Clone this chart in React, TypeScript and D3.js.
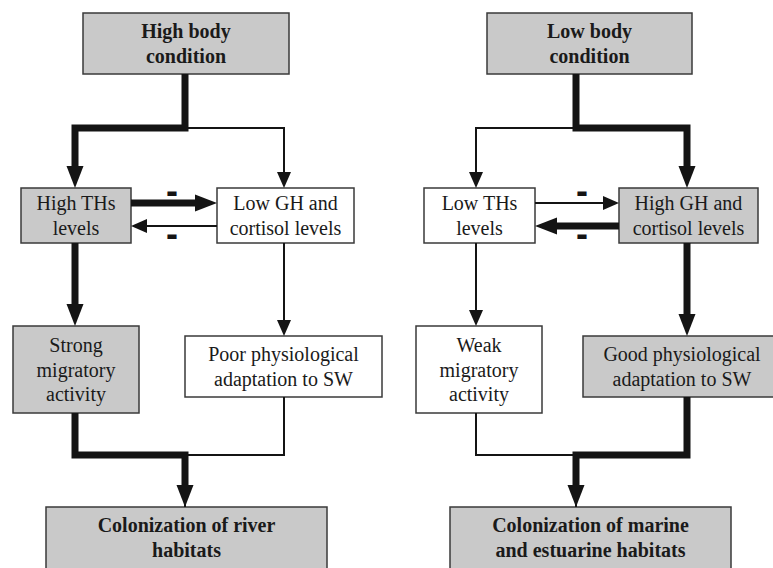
import React from "react";
import * as d3 from "d3";

// two panels: which branch is the "strong" (thick) one
const topLabels = [["High body", "condition"], ["Low body", "condition"]];
const thLabels = [["High THs", "levels"], ["Low THs", "levels"]];
const ghLabels = [["Low GH and", "cortisol levels"], ["High GH and", "cortisol levels"]];
const migLabels = [["Strong", "migratory", "activity"], ["Weak", "migratory", "activity"]];
const adaptLabels = [["Poor physiological", "adaptation to SW"], ["Good physiological", "adaptation to SW"]];
const outcomeLabels = [["Colonization of river", "habitats"], ["Colonization of marine", "and estuarine habitats"]];
const strongSide = ["th", "gh"];
const minusSign = "-";

// layout (pixel boxes per panel)
const layout = [
  {
    top: [83, 13, 289, 74], th: [21, 188, 131, 243], gh: [217, 188, 354, 243],
    mig: [13, 326, 139, 413], adapt: [185, 336, 382, 397], out: [46, 507, 327, 580],
    cx: 185, thx: 75, ghx: 284, split: 128, join: 455, minusX: 172, adaptCx: 283.5,
  },
  {
    top: [487, 13, 692, 74], th: [424, 188, 535, 243], gh: [619, 188, 758, 243],
    mig: [416, 326, 542, 413], adapt: [583, 336, 790, 397], out: [450, 507, 731, 580],
    cx: 576, thx: 476, ghx: 687, split: 128, join: 455, minusX: 582, adaptCx: 682,
  },
];

const GRAY = "#c9c9c9";
const INK = "#141414";
const THICK = 7;
const THIN = 2;
const FS = 20;
const LH = 24.5;
const SERIF = "Liberation Serif, serif";

type Pt = [number, number];
const line = d3.line<Pt>();

function Box({ r, lines, fill, bold, cx }: { r: number[]; lines: string[]; fill: string; bold?: boolean; cx?: number }) {
  const [x0, y0, x1, y1] = r;
  const mx = cx ?? (x0 + x1) / 2;
  const my = (Math.min(y1, 568) + y0) / 2;
  const n = lines.length;
  return (
    <g>
      <rect x={x0} y={y0} width={x1 - x0} height={y1 - y0} fill={fill} stroke="#3a3a3a" strokeWidth={1.5} />
      {lines.map((t, i) => (
        <text key={i} x={mx} y={my + (i - (n - 1) / 2) * LH + 7} textAnchor="middle"
          fontFamily={SERIF} fontSize={FS}
          fontWeight={bold ? "bold" : "normal"} fill="#1a1a1a">{t}</text>
      ))}
    </g>
  );
}

function Arrow({ pts, thick, head = true }: { pts: Pt[]; thick: boolean; head?: boolean }) {
  const w = thick ? THICK : THIN;
  const hl = thick ? 22 : 16;
  const hw = thick ? 17 : 14;
  const a = pts[pts.length - 2];
  const b = pts[pts.length - 1];
  const dx = Math.sign(b[0] - a[0]);
  const dy = Math.sign(b[1] - a[1]);
  const body = pts.slice();
  if (head) body[body.length - 1] = [b[0] - dx * (hl - 2), b[1] - dy * (hl - 2)];
  const base: Pt = [b[0] - dx * hl, b[1] - dy * hl];
  const tri: Pt[] = [b, [base[0] + dy * hw / 2, base[1] + dx * hw / 2], [base[0] - dy * hw / 2, base[1] - dx * hw / 2]];
  return (
    <g>
      <path d={line(body) ?? ""} fill="none" stroke={INK} strokeWidth={w} strokeLinejoin="miter" strokeLinecap="butt" />
      {head && <path d={(line(tri) ?? "") + "Z"} fill={INK} />}
    </g>
  );
}

function Panel({ i }: { i: number }) {
  const L = layout[i];
  const thStrong = strongSide[i] === "th";
  const ghStrong = !thStrong;
  const thR = L.th, ghR = L.gh;
  const yUp = 203, yDn = 226;
  const links = [
    <Arrow key="a" pts={[[L.cx, L.top[3]], [L.cx, L.split], [L.thx, L.split], [L.thx, thR[1]]]} thick={thStrong} />,
    <Arrow key="b" pts={[[L.cx, L.top[3]], [L.cx, L.split], [L.ghx, L.split], [L.ghx, ghR[1]]]} thick={ghStrong} />,
    <Arrow key="c" pts={[[L.thx, thR[3]], [L.thx, L.mig[1]]]} thick={thStrong} />,
    <Arrow key="d" pts={[[L.ghx, ghR[3]], [L.ghx, L.adapt[1]]]} thick={ghStrong} />,
    <Arrow key="e" pts={[[L.thx, L.mig[3]], [L.thx, L.join], [L.cx, L.join], [L.cx, L.out[1]]]} thick={thStrong} head={thStrong} />,
    <Arrow key="f" pts={[[L.ghx, L.adapt[3]], [L.ghx, L.join], [L.cx, L.join], [L.cx, L.out[1]]]} thick={ghStrong} head={ghStrong} />,
  ];
  // thin ones first, thick on top
  const order = [0, 1, 2, 3, 4, 5].sort((a, b) => {
    const s = (k: number) => ((k % 2 === 0) === thStrong ? 1 : 0);
    return s(a) - s(b);
  });
  return (
    <g>
      <Box r={L.top} lines={topLabels[i]} fill={GRAY} bold />
      <Box r={thR} lines={thLabels[i]} fill={thStrong ? GRAY : "#fff"} />
      <Box r={ghR} lines={ghLabels[i]} fill={ghStrong ? GRAY : "#fff"} />
      <Box r={L.mig} lines={migLabels[i]} fill={thStrong ? GRAY : "#fff"} />
      <Box r={L.adapt} lines={adaptLabels[i]} fill={ghStrong ? GRAY : "#fff"} cx={L.adaptCx} />
      <Box r={L.out} lines={outcomeLabels[i]} fill={GRAY} bold />
      {order.map((k) => links[k])}
      <Arrow pts={[[thR[2], yUp], [ghR[0], yUp]]} thick={thStrong} />
      <Arrow pts={[[ghR[0], yDn], [thR[2], yDn]]} thick={ghStrong} />
      <text x={L.minusX} y={203} textAnchor="middle" fontFamily="Liberation Sans, sans-serif" fontWeight="bold" fontSize={36} fill={INK}>{minusSign}</text>
      <text x={L.minusX} y={246} textAnchor="middle" fontFamily="Liberation Sans, sans-serif" fontWeight="bold" fontSize={36} fill={INK}>{minusSign}</text>
    </g>
  );
}

export default function App() {
  return (
    <svg width={773} height={568} style={{ position: "absolute", left: 0, top: 0, background: "#fff" }}>
      <rect width={773} height={568} fill="#fff" />
      <Panel i={0} />
      <Panel i={1} />
    </svg>
  );
}
